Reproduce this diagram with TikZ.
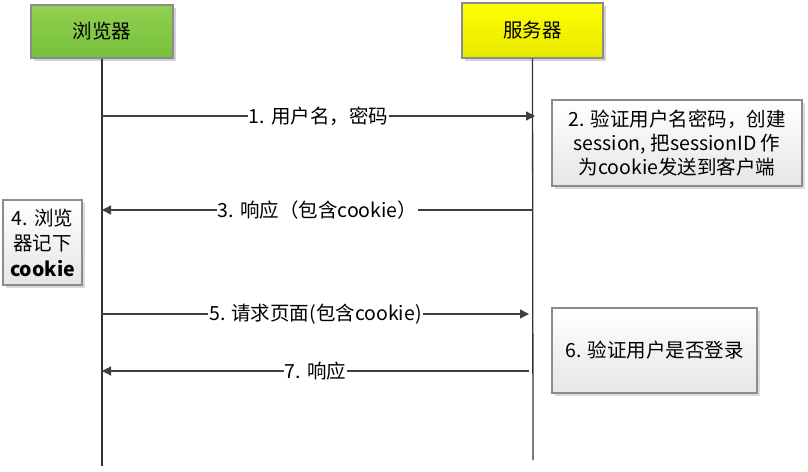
\documentclass[tikz,border=0pt]{standalone}
\usepackage{fontspec}
\setmainfont{Noto Sans CJK SC}
\usetikzlibrary{arrows.meta,shadows}
\definecolor{gtop}{HTML}{92D050}
\definecolor{gbot}{HTML}{76C03A}
\definecolor{ytop}{HTML}{FFFF00}
\definecolor{ybot}{HTML}{E8E800}
\begin{document}
\begin{tikzpicture}[x=1pt,y=-1pt,
  font=\fontsize{19.5}{24}\selectfont,
  actor/.style={draw=black!45,line width=1.2pt,minimum height=54pt,minimum width=142pt,inner sep=0pt,
    drop shadow={shadow xshift=3pt,shadow yshift=-3pt,fill=black!25,opacity=0.7}},
  note/.style={draw=black!45,line width=1.2pt,top color=white,bottom color=black!10,inner sep=0pt,align=center,
    drop shadow={shadow xshift=3pt,shadow yshift=-3pt,fill=black!20,opacity=0.7}},
  life/.style={line width=1.3pt,black!80},
  msg/.style={line width=1.3pt,black!75,-{Triangle[length=9pt,width=9pt]}},
  lbl/.style={fill=white,inner sep=1pt,text=black}]
\useasboundingbox (0,0) rectangle (808,471);
\node[actor,top color=gtop,bottom color=gbot,minimum height=53pt] (br) at (102,31.5) {浏览器};
\node[actor,top color=ytop,bottom color=ybot,minimum width=141pt,minimum height=55pt] (sv) at (532.5,30.5) {服务器};
\coordinate (bre) at (102,466);
\coordinate (sve) at (533,460);
\draw[life] (br.south) -- (bre);
\draw[life] (sv.south) -- (sve);
% message 1
\coordinate (b1) at (102,116); \coordinate (s1) at (535,116);
\draw[msg] (b1) -- node[lbl] {1. 用户名，密码} (s1);
\node[note,minimum width=250pt,minimum height=86pt] (n2) at (677,143) {2. 验证用户名密码，创建\\session, 把sessionID 作\\为cookie发送到客户端};
% message 3
\coordinate (s3) at (533,210); \coordinate (b3) at (102,210);
\draw[msg] (s3) -- node[lbl] {3. 响应（包含cookie）} (b3);
\node[note,minimum width=79pt,minimum height=85pt,font=\fontsize{19.5}{25.5}\selectfont] (n4) at (42.5,242.5) {4. 浏览\\器记下\\\textbf{cookie}};
% message 5
\coordinate (b5) at (102,314); \coordinate (s5) at (529,314);
\draw[msg] (b5) -- node[lbl] {5. 请求页面(包含cookie)} (s5);
\node[note,minimum width=205pt,minimum height=85pt] (n6) at (654.5,350.5) {6. 验证用户是否登录};
% message 7
\coordinate (s7) at (529,371); \coordinate (b7) at (102,371);
\draw[msg] (s7) -- node[lbl] {7. 响应} (b7);
\end{tikzpicture}
\end{document}
